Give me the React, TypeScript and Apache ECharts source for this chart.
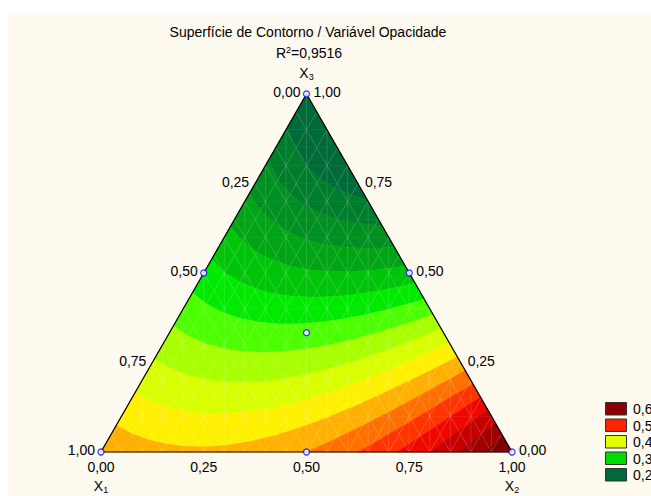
import React, { useEffect, useRef } from "react";
import * as echarts from "echarts";

// Fitted Scheffé cubic mixture model for "Opacidade"
const linearTerms = [0.47, 0.63, 0.2]; // x1, x2, x3
const binaryTerms = [-0.3, 0.0, -0.42]; // x1·x2, x1·x3, x2·x3
const cubicTerms = [0.0, 0.0, 0.173]; // x1·x2·(x1−x2), x1·x3·(x1−x3), x2·x3·(x2−x3)
const ternaryTerm = 0.15; // x1·x2·x3

// Contour boundaries and the fill of each band between them
const contourLevels = [0.225, 0.25, 0.275, 0.3, 0.325, 0.35, 0.375, 0.4, 0.425, 0.45, 0.475, 0.5, 0.525, 0.55, 0.575, 0.6];
const bandColors = [
  "#006B38", "#007D2C", "#008F20", "#00A414", "#00C408", "#00EA00", "#4CFF00", "#A8FF00", "#D8FF00",
  "#FFF000", "#FFB000", "#FF7000", "#FF3400", "#EE0800", "#C60000", "#A00000", "#7E0000",
];

// Design points (x1, x2, x3)
const designPoints = [
  [1, 0, 0], [0, 1, 0], [0, 0, 1],
  [0.5, 0.5, 0], [0.5, 0, 0.5], [0, 0.5, 0.5],
  [1 / 3, 1 / 3, 1 / 3],
];

const tickValues = [0, 0.25, 0.5, 0.75, 1];
const tickLabels = ["0,00", "0,25", "0,50", "0,75", "1,00"];
const componentNames = ["X", "X", "X"];
const componentIndex = ["1", "2", "3"];

const legendLabels = ["0,6", "0,5", "0,4", "0,3", "0,2"];
const legendColors = ["#8A0000", "#FF2400", "#E2FF00", "#00DC00", "#00683A"];

const titleText = "Superfície de Contorno / Variável Opacidade";
const rSquaredText = "=0,9516";

const FONT = '"Liberation Sans", Arial, sans-serif';
const MESH = 20;

type Bary = number[];
type Vtx = { u: number; v: number; z: number };

const toXY = (b: Bary): [number, number] => [b[1] + b[2] / 2, b[2]];

const model = (b: Bary) => {
  const [x1, x2, x3] = b;
  return (
    linearTerms[0] * x1 + linearTerms[1] * x2 + linearTerms[2] * x3 +
    binaryTerms[0] * x1 * x2 + binaryTerms[1] * x1 * x3 + binaryTerms[2] * x2 * x3 +
    cubicTerms[0] * x1 * x2 * (x1 - x2) + cubicTerms[1] * x1 * x3 * (x1 - x3) + cubicTerms[2] * x2 * x3 * (x2 - x3) +
    ternaryTerm * x1 * x2 * x3
  );
};

const clipPoly = (poly: Vtx[], level: number, above: boolean): Vtx[] => {
  const out: Vtx[] = [];
  const inside = (p: Vtx) => (above ? p.z >= level : p.z <= level);
  for (let i = 0; i < poly.length; i++) {
    const cur = poly[i];
    const prev = poly[(i + poly.length - 1) % poly.length];
    const ci = inside(cur);
    const pi = inside(prev);
    if (ci !== pi) {
      const t = (level - prev.z) / (cur.z - prev.z);
      out.push({ u: prev.u + t * (cur.u - prev.u), v: prev.v + t * (cur.v - prev.v), z: level });
    }
    if (ci) out.push(cur);
  }
  return out;
};

const buildBands = () => {
  const vert = (i: number, j: number): Vtx => {
    const b = [1 - (i + j) / MESH, i / MESH, j / MESH];
    const [u, v] = toXY(b);
    return { u, v, z: model(b) };
  };
  const tris: Vtx[][] = [];
  for (let j = 0; j < MESH; j++) {
    for (let i = 0; i + j < MESH; i++) {
      tris.push([vert(i, j), vert(i + 1, j), vert(i, j + 1)]);
      if (i + j < MESH - 1) tris.push([vert(i + 1, j), vert(i + 1, j + 1), vert(i, j + 1)]);
    }
  }
  const polys: { pts: [number, number][]; color: string }[] = [];
  tris.forEach((tri) => {
    const zs = tri.map((p) => p.z);
    const zmin = Math.min(...zs);
    const zmax = Math.max(...zs);
    for (let k = 0; k < bandColors.length; k++) {
      const lo = k === 0 ? -Infinity : contourLevels[k - 1];
      const hi = k === bandColors.length - 1 ? Infinity : contourLevels[k];
      if (zmax < lo || zmin > hi) continue;
      let poly = tri;
      if (lo > -Infinity) poly = clipPoly(poly, lo, true);
      if (poly.length >= 3 && hi < Infinity) poly = clipPoly(poly, hi, false);
      if (poly.length >= 3) polys.push({ pts: poly.map((p) => [p.u, p.v]), color: bandColors[k] });
    }
  });
  return polys;
};

const buildMesh = () => {
  const segs: [number, number][][] = [];
  for (let k = 1; k < MESH; k++) {
    const u = k / MESH;
    segs.push([[u, 0], [u, u <= 0.5 ? 2 * u : 2 * (1 - u)]]);
    const a = k / MESH;
    segs.push([toXY([1 - a, a, 0]), toXY([0, a, 1 - a])]);
    segs.push([toXY([a, 1 - a, 0]), toXY([a, 0, 1 - a])]);
  }
  return segs;
};

type Label = { pos: [number, number]; text?: string; rich?: string; align: string; dx: number; dy: number };

const buildLabels = (): Label[] => {
  const labels: Label[] = [];
  tickValues.forEach((t, i) => {
    labels.push({ pos: toXY([t, 0, 1 - t]), text: tickLabels[i], align: "right", dx: -6, dy: -2 });
    labels.push({ pos: toXY([0, 1 - t, t]), text: tickLabels[i], align: "left", dx: 7, dy: -2 });
    labels.push({ pos: toXY([1 - t, t, 0]), text: tickLabels[i], align: "center", dx: 0, dy: 15 });
  });
  const corners: [Bary, number][] = [[[1, 0, 0], 34], [[0, 1, 0], 34], [[0, 0, 1], -21]];
  corners.forEach(([b, dy], i) => {
    labels.push({
      pos: toXY(b),
      rich: `{x|${componentNames[i]}}{s|${componentIndex[i]}}`,
      align: "center",
      dx: 0,
      dy,
    });
  });
  return labels;
};

export default function App() {
  const ref = useRef<HTMLDivElement>(null);

  useEffect(() => {
    if (!ref.current) return;
    const chart = echarts.init(ref.current, null, { renderer: "svg" });
    const bands = buildBands();
    const mesh = buildMesh();
    const labels = buildLabels();
    const outline = [toXY([1, 0, 0]), toXY([0, 1, 0]), toXY([0, 0, 1])];

    const richStyles = {
      x: { fontSize: 14, fontFamily: FONT, lineHeight: 16, fill: "#000", color: "#000" },
      s: { fontSize: 9, fontFamily: FONT, lineHeight: 9, verticalAlign: "bottom", color: "#000", fill: "#000" },
    };

    chart.setOption({
      animation: false,
      backgroundColor: "#FFFAF0",
      grid: { left: 93, top: 81, width: 411, height: 358 },
      xAxis: { type: "value", min: 0, max: 1, show: false },
      yAxis: { type: "value", min: 0, max: 1, show: false },
      graphic: [
        {
          type: "text",
          x: 300,
          y: 18.5,
          style: { text: titleText, font: `14px ${FONT}`, fill: "#000", align: "center", verticalAlign: "middle" },
        },
        {
          type: "text",
          x: 301,
          y: 40,
          style: {
            text: `{r|R}{p|2}{r|${rSquaredText}}`,
            align: "center",
            verticalAlign: "middle",
            rich: {
              r: { fontSize: 14, fontFamily: FONT, lineHeight: 16, fill: "#000" },
              p: { fontSize: 9, fontFamily: FONT, lineHeight: 16, verticalAlign: "top", padding: [0, 0, 6, 0], fill: "#000" },
            },
          },
        },
        ...legendLabels.flatMap((lab, i) => {
          const y = 389.5 + i * 16.5;
          return [
            {
              type: "rect",
              shape: { x: 597.5, y, width: 21, height: 12.5 },
              style: { fill: legendColors[i], stroke: "#333", lineWidth: 1 },
            },
            {
              type: "text",
              x: 625,
              y: y + 6.5,
              style: { text: lab, font: `14px ${FONT}`, fill: "#000", align: "left", verticalAlign: "middle" },
            },
          ];
        }),
      ],
      series: [
        {
          type: "custom",
          coordinateSystem: "cartesian2d",
          clip: false,
          z: 1,
          silent: true,
          data: bands.map((p, i) => [p.pts[0][0], p.pts[0][1], i]),
          encode: { x: 0, y: 1 },
          renderItem: (params: any, api: any) => {
            const p = bands[params.dataIndex];
            return {
              type: "polygon",
              shape: { points: p.pts.map((q) => api.coord(q)) },
              style: { fill: p.color, stroke: p.color, lineWidth: 0.6 },
            };
          },
        },
        {
          type: "custom",
          coordinateSystem: "cartesian2d",
          clip: false,
          z: 2,
          silent: true,
          data: mesh.map((s, i) => [s[0][0], s[0][1], i]),
          encode: { x: 0, y: 1 },
          renderItem: (params: any, api: any) => {
            const s = mesh[params.dataIndex];
            const a = api.coord(s[0]);
            const b = api.coord(s[1]);
            return {
              type: "line",
              shape: { x1: a[0], y1: a[1], x2: b[0], y2: b[1] },
              style: { stroke: "rgba(255,255,255,0.24)", lineWidth: 0.6 },
            };
          },
        },
        {
          type: "custom",
          coordinateSystem: "cartesian2d",
          clip: false,
          z: 3,
          silent: true,
          data: [[0, 0]],
          encode: { x: 0, y: 1 },
          renderItem: (_params: any, api: any) => ({
            type: "polygon",
            shape: { points: outline.map((q) => api.coord(q)) },
            style: { fill: "none", stroke: "#000", lineWidth: 1.2 },
          }),
        },
        {
          type: "scatter",
          z: 4,
          silent: true,
          symbol: "circle",
          symbolSize: 6,
          itemStyle: { color: "#fff", borderColor: "#1010ff", borderWidth: 1.3 },
          data: designPoints.map((b) => toXY(b)),
        },
        {
          type: "custom",
          coordinateSystem: "cartesian2d",
          clip: false,
          z: 5,
          silent: true,
          data: labels.map((l, i) => [l.pos[0], l.pos[1], i]),
          encode: { x: 0, y: 1 },
          renderItem: (params: any, api: any) => {
            const l = labels[params.dataIndex];
            const c = api.coord(l.pos);
            const style: any = l.rich
              ? { text: l.rich, rich: richStyles, align: l.align, verticalAlign: "middle" }
              : { text: l.text, font: `14px ${FONT}`, fill: "#000", align: l.align, verticalAlign: "middle" };
            return { type: "text", x: c[0] + l.dx, y: c[1] + l.dy, style };
          },
        },
      ],
    });
    return () => chart.dispose();
  }, []);

  return (
    <div
      ref={ref}
      style={{ position: "absolute", left: 8, top: 13, width: 643, height: 483 }}
    />
  );
}
